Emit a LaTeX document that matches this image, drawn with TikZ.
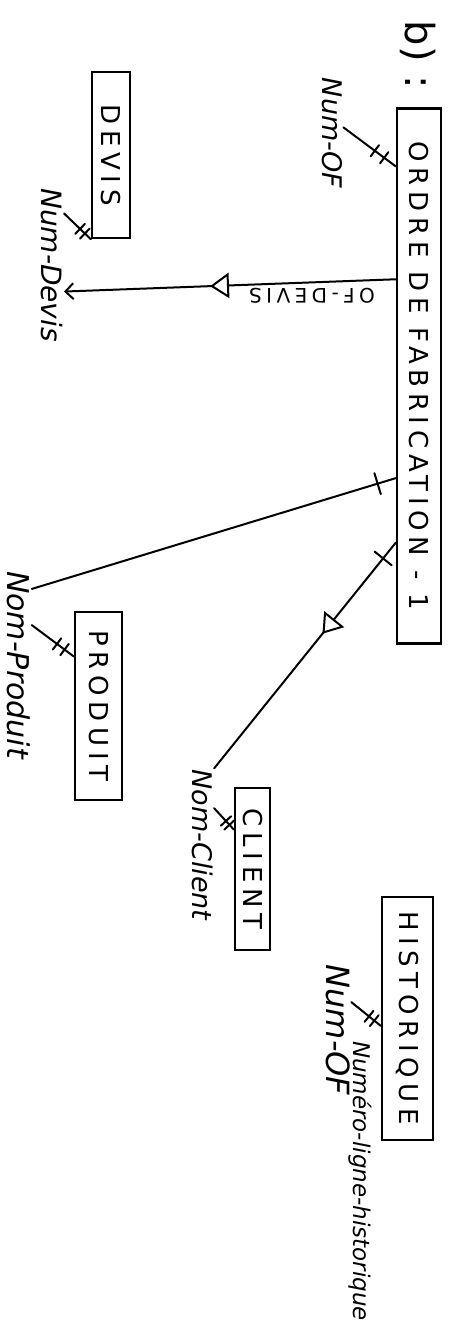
\documentclass[tikz,border=0pt]{standalone}
\usepackage{fontspec}
\usetikzlibrary{arrows.meta, calc, decorations.markings}
\newfontfamily\entfont[LetterSpace=22]{DejaVu Sans}
\newfontfamily\handfont{DejaVu Sans}

\begin{document}
\begin{tikzpicture}[
    x=1pt, y=-1pt,
    entity/.style={rectangle, draw=black, line width=2.4pt, rotate=-90, inner sep=0pt,
                   font=\entfont\fontsize{26}{28}\selectfont},
    attr/.style={rotate=-90, inner sep=1pt, font=\handfont\itshape\fontsize{#1}{#1}\selectfont},
    link/.style={line width=2pt, line cap=round},
    onetick/.style={postaction={decorate, decoration={markings,
        mark=at position #1 with {\draw[line width=2pt] (0,-11pt) -- (0,11pt);}}}},
    idhash/.style={postaction={decorate, decoration={markings,
        mark=at position 0.6 with {\draw[line width=2pt] (0,-7pt) -- (0,7pt);},
        mark=at position 0.78 with {\draw[line width=2pt] (0,-7pt) -- (0,7pt);}}}},
    opentri/.style={postaction={decorate, decoration={markings,
        mark=at position #1 with {\draw[line width=2pt, fill=white] (8pt,0) -- (-8pt,11pt) -- (-8pt,-11pt) -- cycle;}}}}
]
\useasboundingbox (0,0) rectangle (462,1342);

% --- heading ---
\node[rotate=-90, inner sep=0pt, font=\handfont\fontsize{40}{40}\selectfont] (part) at (418,55) {b)\hspace{14pt}:};

% --- Ordre de fabrication ---
\node[entity, minimum width=535pt, minimum height=44pt] (ordre) at (419,376) {ORDRE DE FABRICATION - 1};
\node[attr=27] (numof) at (332,133) {Num-OF};
\draw[link, idhash] ($(numof.north west)!0.45!(numof.north east)$) -- ($(ordre.south west)!0.11!(ordre.south east)$);

% --- Devis ---
\node[entity, minimum width=166pt, minimum height=38pt] (devis) at (111,155) {DEVIS};
\node[attr=28] (numdevis) at (52,265) {Num-Devis};
\draw[link, idhash] ($(numdevis.north west)!0.17!(numdevis.north east)$) -- (devis.south east);

% --- Produit ---
\node[entity, minimum width=188pt, minimum height=47pt] (produit) at (98.5,706) {PRODUIT};
\node[attr=30] (nomproduit) at (19,665) {Nom-Produit};
\draw[link, idhash] ($(nomproduit.north west)!0.29!(nomproduit.north east)$) -- ($(produit.south west)!0.24!(produit.south east)$);

% --- Client ---
\node[entity, minimum width=162pt, minimum height=35pt] (client) at (252.5,869) {CLIENT};
\node[attr=27] (nomclient) at (202.5,845) {Nom-Client};
\draw[link, idhash] ($(nomclient.north west)!0.26!(nomclient.north east)$) -- ($(client.south west)!0.26!(client.south east)$);

% --- Historique ---
\node[entity, minimum width=243pt, minimum height=51pt] (histo) at (407.5,1018.5) {HISTORIQUE};
\node[attr=32] (numofh) at (338,1030) {Num-OF};
\node[attr=23] (numligne) at (360,1181) {Numéro-ligne-historique};
\draw[link, idhash] ($(numofh.north west)!0.29!(numofh.north east)$) -- ($(histo.south west)!0.53!(histo.south east)$);

% --- links from the order ---
\draw[link, opentri=0.53, -{Straight Barb[length=8pt, width=16pt]}]
    ($(ordre.south west)!0.32!(ordre.south east)$) -- ($(numdevis.north west)!0.67!(numdevis.north east)$);
\node[font=\entfont\fontsize{20}{20}\selectfont, rotate=180, inner sep=0pt] (ofdevis) at (312,296) {OF-DEVIS};

\coordinate (prodend) at ($(nomproduit.north west)!0.1!(nomproduit.north east)$);
\draw[link, onetick=0.05] ($(ordre.south west)!0.69!(ordre.south east)$) -- (prodend);

\draw[link, onetick=0.07, opentri=0.37] ($(ordre.south west)!0.81!(ordre.south east)$) -- (nomclient.north west);

\end{tikzpicture}
\end{document}
